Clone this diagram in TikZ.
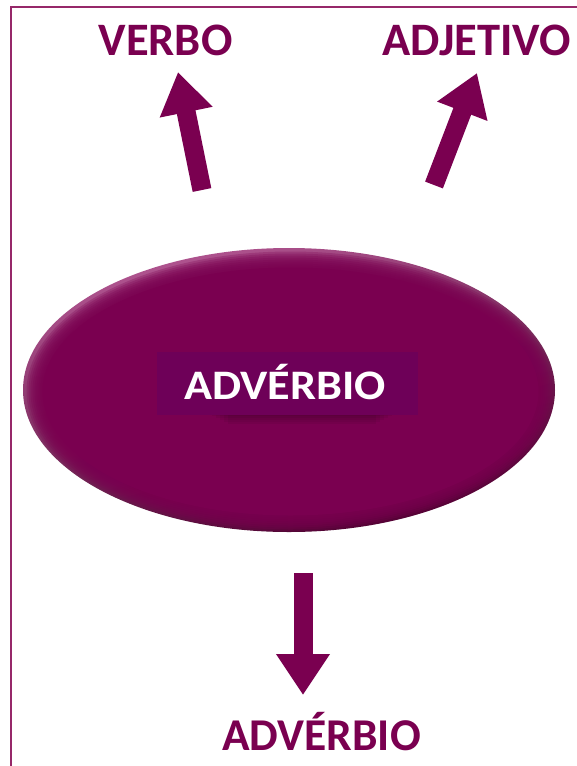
\documentclass[tikz,border=0pt]{standalone}
\usepackage{fontspec}
\setmainfont{Carlito}
\usetikzlibrary{arrows.meta,shapes.geometric}
\definecolor{plum}{RGB}{122,0,80}
\definecolor{plumbox}{RGB}{110,0,88}
\definecolor{plumlight}{RGB}{178,86,146}
\definecolor{plumdark}{RGB}{70,0,42}
\definecolor{framec}{RGB}{150,40,105}
\begin{document}
\begin{tikzpicture}[x=1pt,y=-1pt,
  lbl/.style={font=\fontsize{46.5}{50}\selectfont\bfseries, text=plum, inner sep=0pt, anchor=base},
  bigarrow/.style={draw=plum, line width=19pt, -{Triangle[length=41pt,width=51pt]}},
]
\useasboundingbox (0,0) rectangle (577,766);
\fill[white] (0,0) rectangle (577,766);
\draw[framec, line width=2pt] (11,767) -- (11,7) -- (578,7);

% ellipse
\node[ellipse, minimum width=532pt, minimum height=284pt, inner sep=0pt] (adv) at (289,390) {};
\shade[top color=plumlight, bottom color=plumdark, shading angle=15] (adv.center) ellipse [x radius=266pt, y radius=142pt];
\foreach \k in {2,4,...,16}
  \fill[plum, opacity=0.27] ([shift={(1.5,1.5)}]adv.center) ellipse [x radius={(266-\k)*1pt}, y radius={(142-\k)*1pt}];
\fill[plum] ([shift={(1.5,1.5)}]adv.center) ellipse [x radius=248pt, y radius=124pt];

% shadow under text box
\foreach \i in {0,...,4}
  \fill[black, opacity=0.05] (212+\i*4,414) rectangle (392-\i*4,416+\i*2);
\node[fill=plumbox, minimum width=261pt, minimum height=63pt, inner sep=0pt] (box) at (287.5,383.5) {};
\node[lbl, text=white, font=\fontsize{42}{46}\selectfont\bfseries] (ctext) at (285,399) {\scalebox{1.1}[1]{ADVÉRBIO}};

% labels
\node[lbl] (verbo) at (165.5,55) {VERBO};
\node[lbl] (adjetivo) at (476.5,55) {ADJETIVO};
\node[lbl, font=\fontsize{45.5}{50}\selectfont\bfseries] (adverbio) at (321.5,750) {ADVÉRBIO};

% arrows
\coordinate (v0) at (202,190); \coordinate (v1) at (178,72);
\coordinate (a0) at (434,185); \coordinate (a1) at (477,73);
\coordinate (d0) at (303,573); \coordinate (d1) at (303,695);
\draw[bigarrow] (v0) -- (v1);
\draw[bigarrow] (a0) -- (a1);
\draw[bigarrow] (d0) -- (d1);
\end{tikzpicture}
\end{document}
